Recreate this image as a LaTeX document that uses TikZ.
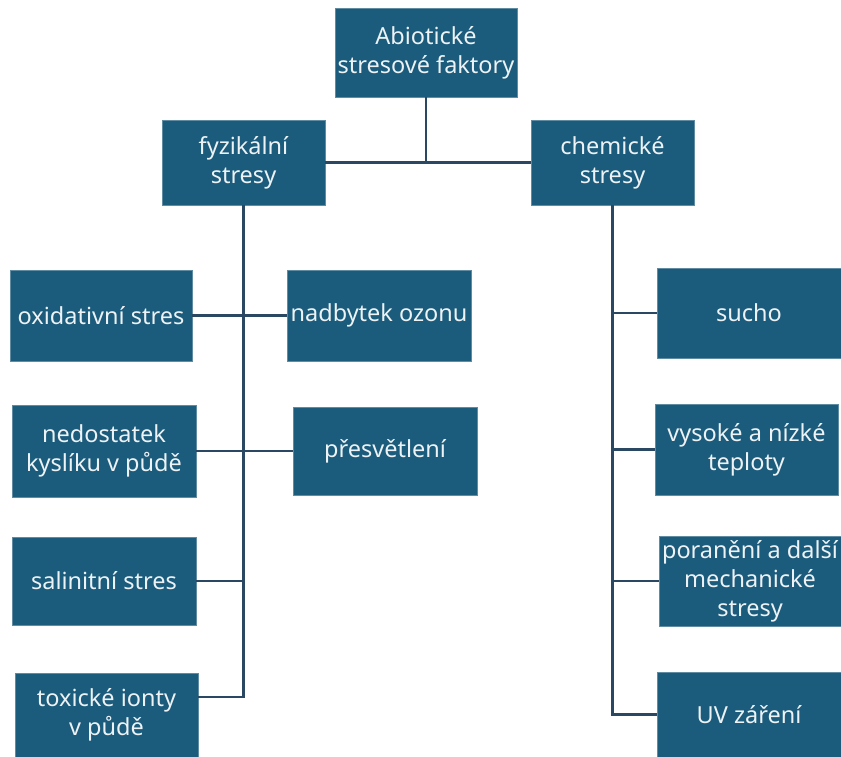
\documentclass[tikz,border=0pt]{standalone}
\usepackage{fontspec}
\setmainfont{Noto Sans}
\usetikzlibrary{calc}
\definecolor{boxblue}{RGB}{27,91,124}
\definecolor{linkblue}{RGB}{42,72,98}

\begin{document}
\begin{tikzpicture}[x=1pt,y=-1pt,
   box/.style={fill=boxblue, draw=boxblue!70!white, line width=.6pt, text=white!92!boxblue,
      align=center, inner sep=1pt, font=\fontsize{23.5}{29}\selectfont},
   link/.style={draw=linkblue, line width=2.4pt}]
   \useasboundingbox (0,0) rectangle (841,757);

   \node[box, minimum width=182, minimum height=89] (top) at (426,52.5) {Abiotické\\stresové faktory};
   \node[box, minimum width=163, minimum height=85] (fyz) at (243.5,162.5) {fyzikální\\stresy};
   \node[box, minimum width=163, minimum height=85] (chem) at (612.5,162.5) {chemické\\stresy};

   \node[box, minimum width=182, minimum height=91] (oxid) at (101,315.5) {oxidativní stres};
   \node[box, minimum width=184, minimum height=91] (ozon) at (379,315.5) {nadbytek ozonu};
   \node[box, minimum width=184, minimum height=92] (kysl) at (104,451) {nedostatek\\kyslíku v půdě};
   \node[box, minimum width=184, minimum height=88] (svetlo) at (385,451) {přesvětlení};
   \node[box, minimum width=184, minimum height=88] (sal) at (104,581) {salinitní stres};
   \node[box, minimum width=183, minimum height=84] (ionty) at (106.5,715) {toxické ionty\\v půdě};

   \node[box, minimum width=184, minimum height=90] (sucho) at (749,313) {sucho};
   \node[box, minimum width=183, minimum height=91] (tepl) at (746.5,449.5) {vysoké a nízké\\teploty};
   \node[box, minimum width=182, minimum height=90] (mech) at (750,581) {poranění a další\\mechanické\\stresy};
   \node[box, minimum width=184, minimum height=85] (uv) at (749,714.5) {UV záření};

   \coordinate (mid) at (top.south |- fyz.east);
   \draw[link] (top.south) -- (mid);
   \draw[link] (fyz.east) -- (chem.west);

   \coordinate (lend) at ($(fyz.south |- ionty.east)+(0,-18)$);
   \draw[link] (fyz.south) -- (lend) -- (ionty.east |- lend);
   \draw[link] (oxid.east) -- (ozon.west);
   \draw[link] (kysl.east) -- (svetlo.west);
   \draw[link] (sal.east) -- (fyz.south |- sal.east);

   \coordinate (rend) at (chem.south |- uv.west);
   \draw[link] (chem.south) -- (rend) -- (uv.west);
   \foreach \n in {sucho,tepl,mech}
   \draw[link] (\n.west) -- (chem.south |- \n.west);

\end{tikzpicture}
\end{document}
